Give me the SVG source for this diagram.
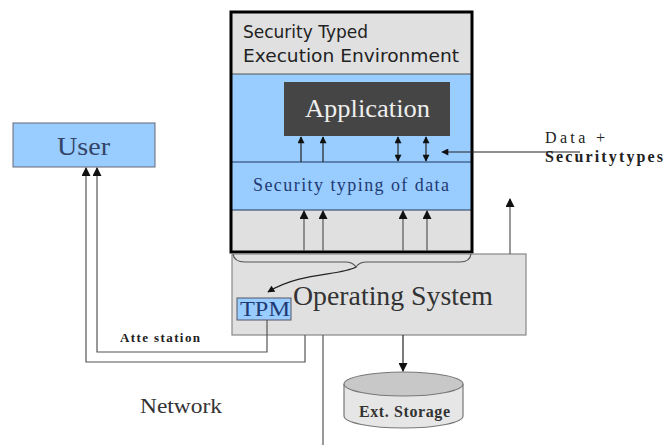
<svg xmlns="http://www.w3.org/2000/svg" width="665" height="445" viewBox="0 0 665 445">
<defs>
<marker id="ah" viewBox="0 0 10 10" refX="9" refY="5" markerWidth="13" markerHeight="9" orient="auto-start-reverse" markerUnits="userSpaceOnUse">
<path d="M0,0 L10,5 L0,10 z" fill="#111"/>
</marker>
<marker id="ahs" viewBox="0 0 10 10" refX="9" refY="5" markerWidth="8" markerHeight="7" orient="auto-start-reverse" markerUnits="userSpaceOnUse">
<path d="M0,0 L10,5 L0,10 z" fill="#111"/>
</marker>
</defs>
<style>
.serif{font-family:"Liberation Serif","DejaVu Serif",serif}
.sans{font-family:"DejaVu Sans","Liberation Sans",sans-serif}
.blue{fill:#99ccff}
.grey{fill:#e0e0e0}
.ln{stroke:#555;stroke-width:1.2;fill:none}
.dk{stroke:#222;stroke-width:1.2;fill:none}
</style>
<rect width="665" height="445" fill="#fff"/>

<g id="tee">
<rect x="231" y="12" width="241" height="240" class="grey"/>
<rect x="231" y="74" width="241" height="136" class="blue"/>
<line x1="231" y1="74" x2="472" y2="74" stroke="#555" stroke-width="1"/>
<line x1="231" y1="162" x2="472" y2="162" stroke="#1f3a60" stroke-width="1"/>
<line x1="231" y1="210" x2="472" y2="210" stroke="#1f3a60" stroke-width="1"/>
<rect x="231" y="12" width="241" height="240" fill="none" stroke="#000" stroke-width="3"/>
<text x="243" y="38" class="sans" font-size="17" fill="#222">Security Typed</text>
<text x="243" y="62" class="sans" font-size="17" fill="#222" textLength="216" lengthAdjust="spacingAndGlyphs">Execution Environment</text>
<text x="253" y="191" class="serif" font-size="18" fill="#1f3a73" textLength="196" lengthAdjust="spacing">Security typing of data</text>
</g>

<g id="application">
<rect x="284" y="82" width="166" height="54" fill="#454545"/>
<text x="305" y="117" class="serif" font-size="26" fill="#eeeeee" textLength="125" lengthAdjust="spacingAndGlyphs">Application</text>
</g>

<g id="os">
<rect x="232" y="254" width="294" height="81" class="grey" stroke="#888" stroke-width="1.2"/>
<text x="293" y="305" class="serif" font-size="27" fill="#333" textLength="200" lengthAdjust="spacingAndGlyphs">Operating System</text>
</g>

<g id="tpm">
<rect x="237" y="298" width="54" height="22" class="blue" stroke="#556" stroke-width="1"/>
<text x="240" y="316" class="serif" font-size="20" fill="#1f3a73" textLength="50" lengthAdjust="spacingAndGlyphs">TPM</text>
</g>

<g id="user">
<rect x="13" y="123" width="142" height="44" class="blue" stroke="#667" stroke-width="1"/>
<text x="57" y="155" class="serif" font-size="26" fill="#334466" textLength="53" lengthAdjust="spacingAndGlyphs">User</text>
</g>

<g id="storage">
<path d="M344,384 L344,416 A59.5,12 0 0 0 463,416 L463,384" fill="#e6e6e6" stroke="#777" stroke-width="1.2"/>
<ellipse cx="403.5" cy="384" rx="59.5" ry="12" fill="#c8c8c8" stroke="#777" stroke-width="1.2"/>
<text x="359" y="417" class="serif" font-size="16" fill="#333" font-weight="bold" textLength="91" lengthAdjust="spacing">Ext. Storage</text>
</g>

<g id="labels">
<text x="120" y="342" class="serif" font-size="13" fill="#222" font-weight="bold" textLength="80" lengthAdjust="spacing">Atte station</text>
<text x="140" y="413" class="serif" font-size="22" fill="#333" textLength="82" lengthAdjust="spacingAndGlyphs">Network</text>
<text x="545" y="143" class="serif" font-size="16" fill="#222" textLength="60" lengthAdjust="spacing">Data +</text>
<text x="545" y="162" class="serif" font-size="16" fill="#222" font-weight="bold" textLength="118" lengthAdjust="spacing">Securitytypes</text>
</g>

<g id="connectors">
<line x1="301" y1="162" x2="301" y2="137" class="dk" marker-end="url(#ahs)"/>
<line x1="323" y1="162" x2="323" y2="137" class="dk" marker-end="url(#ahs)"/>
<line x1="398" y1="161" x2="398" y2="137" class="dk" marker-start="url(#ahs)" marker-end="url(#ahs)"/>
<line x1="426" y1="161" x2="426" y2="137" class="dk" marker-start="url(#ahs)" marker-end="url(#ahs)"/>
<line x1="580" y1="152" x2="442" y2="152" class="dk" marker-end="url(#ahs)"/>
<line x1="304" y1="251" x2="304" y2="211" class="ln" marker-end="url(#ah)"/>
<line x1="323" y1="251" x2="323" y2="211" class="ln" marker-end="url(#ah)"/>
<line x1="403" y1="251" x2="403" y2="211" class="ln" marker-end="url(#ah)"/>
<line x1="427" y1="251" x2="427" y2="211" class="ln" marker-end="url(#ah)"/>
<line x1="510" y1="254" x2="510" y2="199" class="ln" marker-end="url(#ah)"/>
<path d="M233,254 Q234,262 245,262 L345,262 Q353,262 356,267 Q359,262 367,262 L460,262 Q470,262 471,254" class="ln"/>
<path d="M356,267 C340,276 300,272 268,292" class="dk" marker-end="url(#ahs)"/>
<line x1="403" y1="335" x2="403" y2="371" class="dk" marker-end="url(#ah)"/>
<line x1="323" y1="335" x2="323" y2="445" class="ln"/>
<polyline points="267,320 267,352 97,352 97,168" class="ln" marker-end="url(#ah)"/>
<polyline points="305,335 305,362 86,362 86,168" class="ln" marker-end="url(#ah)"/>
</g>
</svg>
